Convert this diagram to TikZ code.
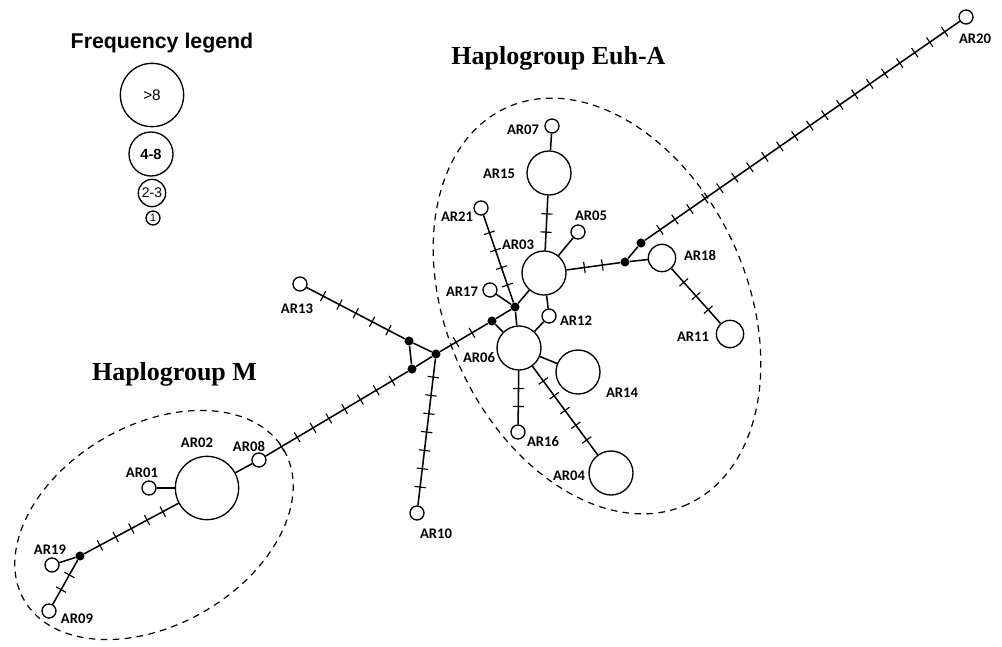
\documentclass[tikz,border=0pt]{standalone}
\usepackage{fontspec}
\setmainfont{Liberation Serif}
\newfontfamily\lblfont{Carlito}
\newfontfamily\arialfont{Liberation Sans}
\begin{document}
\begin{tikzpicture}[x=0.75pt,y=-0.75pt,
  hap/.style={circle, draw, fill=white, inner sep=0pt, line width=1pt},
  s1/.style={hap, minimum size=10.5pt},
  s2/.style={hap, minimum size=20.5pt},
  s4/.style={hap, minimum size=33pt},
  s8/.style={hap, minimum size=47.5pt},
  mv/.style={circle, fill=black, inner sep=0pt, minimum size=6.8pt},
  lbl/.style={font=\lblfont\bfseries\fontsize{11}{13}\selectfont, inner sep=0pt},
  title/.style={font=\bfseries\fontsize{19.5}{22}\selectfont, inner sep=0pt, anchor=base},
  edge/.style={line width=1.15pt},
  tk/.style={draw, rectangle, inner sep=0pt, outer sep=0pt, minimum width=0pt, minimum height=8.5pt, line width=0.85pt},
  grp/.style={line width=0.9pt, dash pattern=on 5pt off 4pt}
]
\newcommand\mut[3]{\draw[edge] (#1) -- (#2) \foreach \k [evaluate=\k as \p using \k/(#3+1)] in {1,...,#3} {node[tk, sloped, pos=\p] {}};}
\useasboundingbox (0,0) rectangle (1002,646);

% group outlines
\draw[grp, rotate around={-65.4:(597,306)}] (597,306) ellipse [x radius=218, y radius=150];
\draw[grp, rotate around={30:(154,525)}] (154,525) ellipse [x radius=150, y radius=100];

% titles
\node[title] (tEuh) at (558.5,64) {Haplogroup Euh-A};
\node[title] (tM) at (174.5,380) {Haplogroup M};
\node[font=\arialfont\bfseries\fontsize{16}{19}\selectfont, inner sep=0pt, anchor=base] (tleg) at (162,48) {Frequency legend};

% legend
\node[s8, font=\arialfont\fontsize{11.5}{13}\selectfont] (L8) at (152,95) {>8};
\node[s4, font=\arialfont\bfseries\fontsize{11}{13}\selectfont] (L4) at (151,154) {4-8};
\node[s2, font=\arialfont\fontsize{10.5}{12}\selectfont] (L2) at (152,193) {2-3};
\node[s1, font=\arialfont\fontsize{8}{9}\selectfont] (L1) at (153,218) {1};

% haplotypes
\node[s1] (AR20) at (966,17) {};
\node[s2] (AR18) at (662,258) {};
\node[s2] (AR11) at (730,334) {};
\node[s4] (AR03) at (544,273) {};
\node[s4] (AR15) at (549,173) {};
\node[s1] (AR07) at (552,126) {};
\node[s1] (AR05) at (578,232) {};
\node[s1] (AR21) at (481,208) {};
\node[s1] (AR17) at (490,290) {};
\node[s1] (AR12) at (549,316) {};
\node[s4] (AR06) at (519,348) {};
\node[s4] (AR14) at (578,372) {};
\node[s1] (AR16) at (518,432) {};
\node[s4] (AR04) at (611,473) {};
\node[s1] (AR13) at (300,284) {};
\node[s1] (AR10) at (417,513) {};
\node[s1] (AR08) at (259,460) {};
\node[s8] (AR02) at (207,488) {};
\node[s1] (AR01) at (149,488) {};
\node[s1] (AR19) at (52,565) {};
\node[s1] (AR09) at (49,611) {};

% median vectors
\node[mv] (B1) at (641,243) {};
\node[mv] (B2) at (625,262) {};
\node[mv] (J1) at (515,307) {};
\node[mv] (J2) at (492,321) {};
\node[mv] (C) at (436,354) {};
\node[mv] (T1) at (409,341) {};
\node[mv] (T2) at (412,369) {};
\node[mv] (BM) at (80,556) {};

% labels
\node[lbl] (lAR20) at (975,39) {AR20};
\node[lbl] (lAR07) at (523,130) {AR07};
\node[lbl] (lAR15) at (499,174) {AR15};
\node[lbl] (lAR21) at (457,217) {AR21};
\node[lbl] (lAR05) at (591,216) {AR05};
\node[lbl] (lAR03) at (518,245) {AR03};
\node[lbl] (lAR17) at (462,292) {AR17};
\node[lbl] (lAR12) at (576,321) {AR12};
\node[lbl] (lAR06) at (479,358) {AR06};
\node[lbl] (lAR14) at (622,393) {AR14};
\node[lbl] (lAR16) at (543,442) {AR16};
\node[lbl] (lAR04) at (569,476) {AR04};
\node[lbl] (lAR18) at (700,255) {AR18};
\node[lbl] (lAR11) at (693,337) {AR11};
\node[lbl] (lAR13) at (297,309) {AR13};
\node[lbl] (lAR10) at (436,534) {AR10};
\node[lbl] (lAR02) at (197,443) {AR02};
\node[lbl] (lAR08) at (249,446) {AR08};
\node[lbl] (lAR01) at (142,473) {AR01};
\node[lbl] (lAR19) at (50,550) {AR19};
\node[lbl] (lAR09) at (77,619) {AR09};

% connections
\mut{B1}{AR20}{20}
\draw[edge] (B1) -- (B2);
\mut{B2}{AR03}{2}
\draw[edge] (B2) -- (AR18);
\mut{AR18}{AR11}{3}
\mut{AR03}{AR15}{2}
\draw[edge] (AR15) -- (AR07);
\draw[edge] (AR03) -- (AR05);
\mut{AR21}{J1}{4}
\draw[edge] (J1) -- (AR06);
\draw[edge] (J1) -- (AR17);
\draw[edge] (J1) -- (AR03);
\draw[edge] (J1) -- (J2);
\draw[edge] (J2) -- (AR06);
\mut{C}{J2}{2}
\draw[edge] (AR03) -- (AR12);
\draw[edge] (AR12) -- (AR06);
\draw[edge] (AR06) -- (AR14);
\mut{AR06}{AR16}{2}
\mut{AR06}{AR04}{5}
\draw[edge] (C) -- (T1);
\mut{T1}{AR13}{5}
\draw[edge] (T1) -- (T2);
\draw[edge] (T2) -- (C);
\mut{T2}{AR08}{8}
\mut{C}{AR10}{7}
\draw[edge] (AR08) -- (AR02);
\draw[edge] (AR01) -- (AR02);
\mut{AR02}{BM}{5}
\draw[edge] (BM) -- (AR19);
\mut{BM}{AR09}{2}
\end{tikzpicture}
\end{document}
